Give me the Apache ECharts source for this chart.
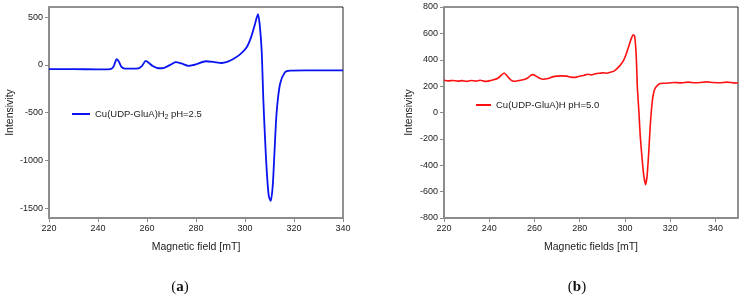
<!DOCTYPE html>
<html>
<head>
<meta charset="utf-8">
<script src="https://cdn.jsdelivr.net/npm/echarts@6/dist/echarts.min.js"></script>
<style>
  html, body { margin: 0; padding: 0; background: #fff; }
  #main { width: 742px; height: 299px; }
</style>
</head>
<body>
<div id="main"></div>
<script>
// panel (a): Cu(UDP-GluA)H2 pH=2.5, field [mT] -> intensity
const fieldA = [220, 230, 240, 244, 245.5, 246.5, 247.6, 248.6, 249.6, 251, 254, 256.5, 258, 259.5, 260.8, 262.5, 264.6, 267, 269.5, 271.7, 274, 277, 280, 284, 287, 290.5, 293, 295.2, 298, 300.7, 302.5, 304, 305.3, 306, 306.8, 307.5, 308.2, 308.9, 309.7, 310.5, 311.3, 312, 312.9, 314.3, 316.3, 318.4, 325, 340];
const intensityA = [-45, -45, -46, -46, -40, -10, 60, 30, -20, -38, -40, -36, -10, 42, 20, -15, -35, -30, 0, 28, 15, -10, 5, 38, 32, 20, 35, 62, 110, 185, 290, 420, 530, 420, 150, -375, -780, -1120, -1370, -1422, -1270, -930, -500, -200, -77, -60, -58, -58];

// panel (b): Cu(UDP-GluA)H pH=5.0
const fieldB = [220, 222, 224, 226, 228, 230, 232, 234, 236, 238, 240, 242, 244, 245.5, 246.6, 248, 249.5, 251, 253, 255, 257, 258.2, 259.3, 260.5, 262, 264, 266, 268, 270, 272, 274.3, 276, 278, 280, 282, 283.5, 285, 287, 289, 290.6, 292, 293.5, 295, 296.5, 298, 299.4, 300.5, 301.6, 302.8, 303.7, 304.3, 305, 305.5, 306.2, 306.8, 307.5, 308.2, 309.1, 309.8, 310.5, 311.2, 312, 312.7, 313.4, 314.5, 315.6, 318, 321.5, 325, 328, 331, 333.4, 336, 339, 342, 345, 348, 350];
const intensityB = [245, 240, 243, 238, 242, 236, 243, 238, 244, 236, 240, 248, 262, 285, 300, 275, 248, 237, 242, 248, 262, 280, 287, 278, 262, 252, 258, 270, 276, 278, 276, 268, 266, 275, 283, 290, 285, 294, 298, 301, 298, 305, 312, 333, 360, 396, 440, 497, 560, 590, 580, 430, 190, 0, -185, -330, -460, -548, -480, -310, -100, 70, 150, 185, 208, 220, 222, 228, 225, 230, 226, 228, 232, 228, 226, 230, 225, 224];

const xTicksA = [220, 240, 260, 280, 300, 320, 340];
const yTicksA = [-1500, -1000, -500, 0, 500];
const xTicksB = [220, 240, 260, 280, 300, 320, 340];
const yTicksB = [-800, -600, -400, -200, 0, 200, 400, 600, 800];

const seriesNames = ['Cu(UDP-GluA)H{sub|2} pH=2.5', 'Cu(UDP-GluA)H pH=5.0'];

const FONT = 'Liberation Sans, Arial, sans-serif';
const GRAY = '#8c8c8c';

function pairs(xs, ys) {
  return xs.map((x, i) => [x, ys[i]]);
}

function xAxisOf(grid, min, max, ticks, name) {
  return {
    type: 'value', gridIndex: grid, min: min, max: max,
    name: name, nameLocation: 'middle', nameGap: 24,
    nameTextStyle: { fontFamily: FONT, fontSize: 10.5, color: '#222' },
    axisLine: { show: true, onZero: false, lineStyle: { color: GRAY, width: 2 } },
    axisTick: { show: true, customValues: ticks, length: 4, lineStyle: { color: GRAY } },
    axisLabel: { customValues: ticks, formatter: v => String(v), fontFamily: FONT, fontSize: 9, color: '#222', margin: 6 },
    splitLine: { show: false }
  };
}

function yAxisOf(grid, min, max, ticks, gap) {
  return {
    type: 'value', gridIndex: grid, min: min, max: max,
    name: 'Intensivity', nameLocation: 'middle', nameGap: gap,
    nameTextStyle: { fontFamily: FONT, fontSize: 10.5, color: '#222' },
    axisLine: { show: true, onZero: false, lineStyle: { color: GRAY, width: 2 } },
    axisTick: { show: true, customValues: ticks, length: 4, lineStyle: { color: GRAY } },
    axisLabel: { customValues: ticks, formatter: v => String(v), fontFamily: FONT, fontSize: 9, color: '#222', margin: 6 },
    splitLine: { show: false }
  };
}

const chart = echarts.init(document.getElementById('main'));

const legendText = {
  fontFamily: FONT, fontSize: 9.5, color: '#222',
  rich: { sub: { fontFamily: FONT, fontSize: 6.5, color: '#222', padding: [6, 0, 0, 0] } }
};

const option = {
  animation: false,
  backgroundColor: '#fff',
  grid: [
    { left: 49, top: 7, width: 294, height: 211, show: true, borderColor: '#222', borderWidth: 1 },
    { left: 444, top: 7, width: 294, height: 211, show: true, borderColor: '#222', borderWidth: 1 }
  ],
  xAxis: [
    xAxisOf(0, 220, 340, xTicksA, 'Magnetic field [mT]'),
    xAxisOf(1, 220, 350, xTicksB, 'Magnetic fields [mT]')
  ],
  yAxis: [
    yAxisOf(0, -1600, 605, yTicksA, 25),
    yAxisOf(1, -800, 800, yTicksB, 29)
  ],
  legend: [
    {
      data: [seriesNames[0]], left: 72, top: 109, padding: 0, icon: 'rect', itemWidth: 18, itemHeight: 2, itemGap: 0,
      textStyle: legendText
    },
    {
      data: [seriesNames[1]], left: 476, top: 100, padding: 0, icon: 'rect', itemWidth: 15, itemHeight: 2, itemGap: 0,
      textStyle: legendText
    }
  ],
  series: [
    {
      name: seriesNames[0], type: 'line', xAxisIndex: 0, yAxisIndex: 0,
      data: pairs(fieldA, intensityA), symbol: 'none', smooth: 0.25,
      lineStyle: { color: '#0a14f0', width: 1.8 }, itemStyle: { color: '#0a14f0' }
    },
    {
      name: seriesNames[1], type: 'line', xAxisIndex: 1, yAxisIndex: 1,
      data: pairs(fieldB, intensityB), symbol: 'none', smooth: 0.2,
      lineStyle: { color: '#ff1010', width: 1.6 }, itemStyle: { color: '#ff1010' }
    }
  ],
  graphic: [
    {
      type: 'text', x: 180, y: 287,
      style: {
        text: '({b|a})', x: 0, y: 0, align: 'center', verticalAlign: 'middle',
        font: '15px "Liberation Serif", serif', fill: '#111',
        rich: { b: { font: 'bold 15px "Liberation Serif", serif', fill: '#111' } }
      }
    },
    {
      type: 'text', x: 577, y: 287,
      style: {
        text: '({b|b})', x: 0, y: 0, align: 'center', verticalAlign: 'middle',
        font: '15px "Liberation Serif", serif', fill: '#111',
        rich: { b: { font: 'bold 15px "Liberation Serif", serif', fill: '#111' } }
      }
    }
  ]
};

chart.setOption(option);
</script>
</body>
</html>
